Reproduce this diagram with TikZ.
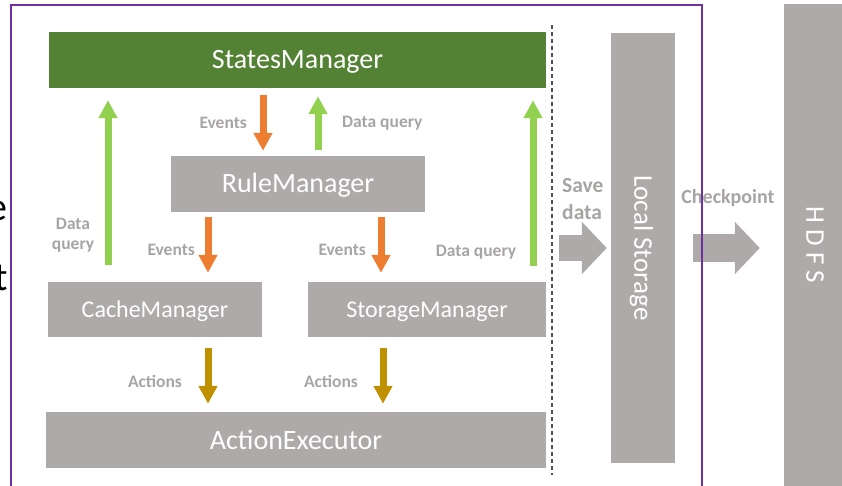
\documentclass[tikz,border=0pt]{standalone}
\usepackage{fontspec}
\setmainfont{Carlito}
\usetikzlibrary{arrows.meta}
\definecolor{boxgray}{RGB}{174,170,170}
\definecolor{labgray}{RGB}{168,164,164}
\definecolor{stgreen}{RGB}{84,130,53}
\definecolor{argreen}{RGB}{146,208,80}
\definecolor{arorange}{RGB}{237,125,49}
\definecolor{argold}{RGB}{191,144,0}
\definecolor{frpurple}{RGB}{112,48,160}
\definecolor{dashgray}{RGB}{80,80,80}
\begin{document}
\begin{tikzpicture}[x=1pt,y=-1pt,
  box/.style={fill=boxgray, inner sep=0pt, text=white, font=\fontsize{28}{32}\selectfont, text height=18pt, text depth=0pt},
  smallbox/.style={box, font=\fontsize{24}{28}\selectfont, text height=15.5pt},
  boxtext/.style={text=white, inner sep=0pt, font=\fontsize{27}{32}\selectfont, text height=17.4pt, text depth=0pt},
  lab/.style={text=labgray, inner sep=0pt, font=\bfseries\fontsize{17.5}{20}\selectfont},
  arr/.style={line width=7pt, -{Triangle[width=18pt,length=18pt]}},
  orangearr/.style={arr, draw=arorange},
  greenarr/.style={arr, draw=argreen},
  goldarr/.style={arr, draw=argold},
  blockarr/.style={draw=boxgray, -{Triangle[width=51pt,length=25pt]}},
  frag/.style={text=black, inner sep=0pt, font=\fontsize{40}{48}\selectfont}
]
\useasboundingbox (0,0) rectangle (842,486);
\clip (0,0) rectangle (842,486);

% cut-off text fragments at the left edge (as in the reference)
\node[frag, anchor=base east] (frage) at (8,221) {e};
\node[frag, anchor=base east] (fragt) at (8,290) {t};

% boxes
\node[box, fill=stgreen, minimum width=497pt, minimum height=56pt] (states) at (297.5,60) {StatesManager};
\node[box, minimum width=254pt, minimum height=56pt] (rule) at (298,184) {RuleManager};
\node[smallbox, minimum width=214pt, minimum height=55pt] (cache) at (155,309.5) {CacheManager};
\node[smallbox, minimum width=238pt, minimum height=55pt] (storage) at (427,309.5) {StorageManager};
\node[box, minimum width=500pt, minimum height=56pt] (action) at (296,440) {ActionExecutor};
\node[box, minimum width=64pt, minimum height=430pt] (local) at (643,248) {};
\node[boxtext, rotate=-90] (localtxt) at (local.center) {Local Storage};
\node[box, minimum width=62pt, minimum height=490pt] (hdfs) at (815,249) {};
\node[boxtext, rotate=-90] (hdfstxt) at (815,245) {H D F S};

% dashed separator
\coordinate (dashtop) at (552,25);
\coordinate (dashbot) at (552,475);
\draw[dashgray, line width=1.2pt, dash pattern=on 4pt off 3pt] (dashtop) -- (dashbot);

% arrows
\draw[orangearr, shorten <=7pt, shorten >=5pt] (263,0 |- states.south) -- (263,0 |- rule.north);
\draw[greenarr, shorten <=6pt, shorten >=8pt] (318,0 |- rule.north) -- (318,0 |- states.south);
\draw[greenarr, shorten <=17pt, shorten >=12pt] (108,0 |- cache.north) -- (108,0 |- states.south);
\draw[greenarr, shorten <=16pt, shorten >=12pt] (533,0 |- storage.north) -- (533,0 |- states.south);
\draw[orangearr, shorten <=5pt, shorten >=9pt] (208,0 |- rule.south) -- (208,0 |- cache.north);
\draw[orangearr, shorten <=5pt, shorten >=9pt] (381,0 |- rule.south) -- (381,0 |- storage.north);
\draw[goldarr, shorten <=11pt, shorten >=8pt] (208,0 |- cache.south) -- (208,0 |- action.north);
\draw[goldarr, shorten <=11pt, shorten >=8pt] (383,0 |- storage.south) -- (383,0 |- action.north);

% block arrows
\coordinate (savetail) at (559,248);
\draw[blockarr, line width=26pt, shorten >=4pt] (savetail) -- (local.west);
\draw[blockarr, line width=28pt, shorten <=18pt, shorten >=24pt] (local.east) -- (local.east -| hdfs.west);

% labels
\node[lab, anchor=east] (lev1) at (247,123) {Events};
\node[lab, anchor=west] (ldq1) at (342,123) {Data query};
\node[lab, align=center] (ldqL) at (73,235) {Data\\query};
\node[lab] (ldqR) at (476,252) {Data query};
\node[lab, anchor=east] (lev2) at (195,250) {Events};
\node[lab, anchor=east] (lev3) at (366,250) {Events};
\node[lab] (lac1) at (155,381) {Actions};
\node[lab] (lac2) at (331,381) {Actions};
\node[lab, anchor=west, align=left, font=\bfseries\fontsize{21.5}{27}\selectfont] (lsave) at (562,199) {Save\\data};
\node[lab, font=\bfseries\fontsize{20}{24}\selectfont] (lchk) at (728,198) {Checkpoint};

% outer frame
\draw[frpurple, line width=1.6pt] (11,5) rectangle (702,500);
\end{tikzpicture}
\end{document}
